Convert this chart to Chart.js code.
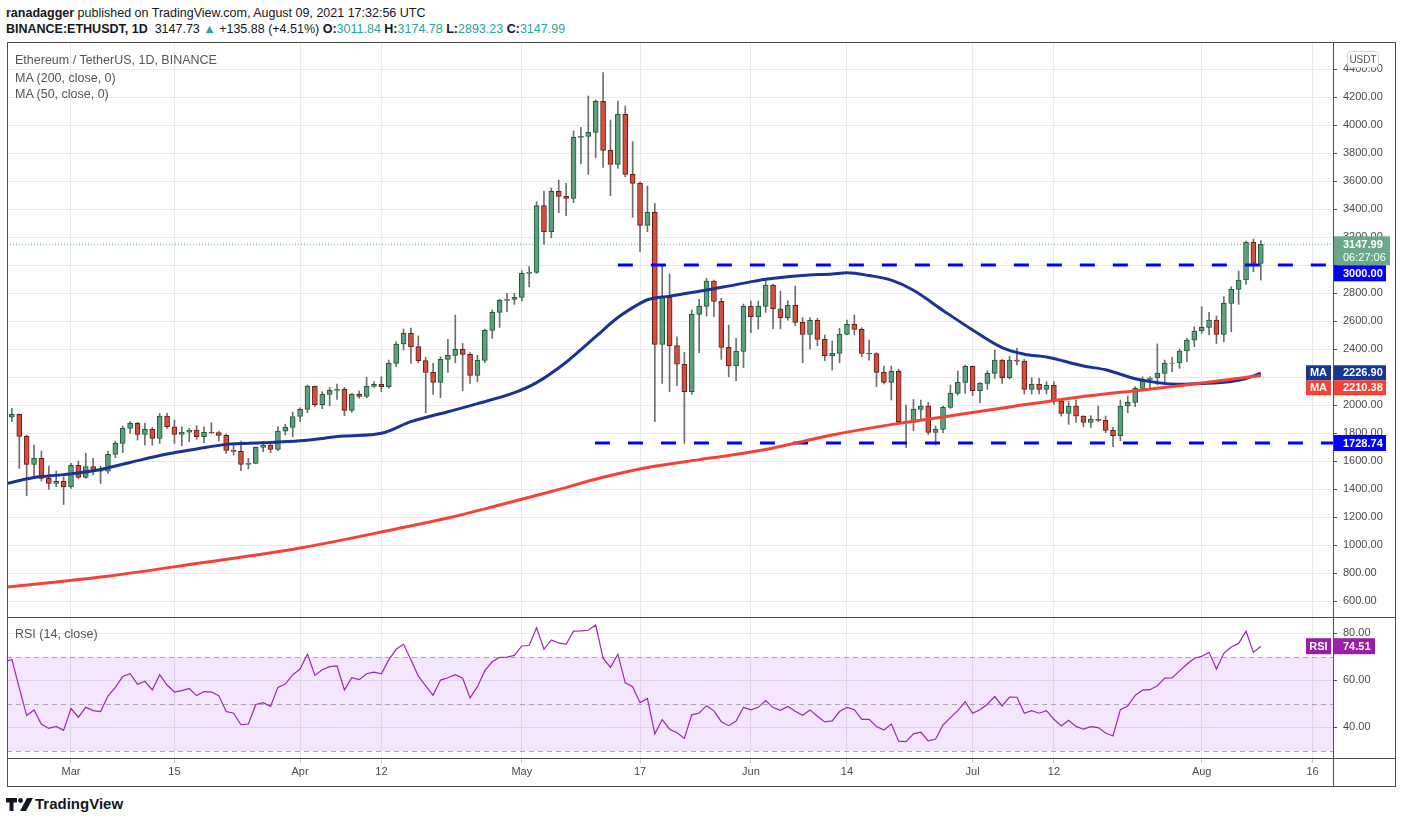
<!DOCTYPE html>
<html lang="en">
<head>
<meta charset="UTF-8">
<title>Ethereum / TetherUS, 1D, BINANCE</title>
<script src="https://cdn.jsdelivr.net/npm/chart.js"></script>
<style>
    body {
        margin: 0;
        width: 1401px;
        height: 823px;
        position: relative;
        overflow: hidden;
        background: #fff;
        font-family: 'Liberation Sans', Arial, sans-serif;
        color: #131722;
    }
    .abs { position: absolute; white-space: nowrap; }
    .hdr { left: 6px; font-size: 12.5px; line-height: 15px; }
    .up { color: #26a69a; }
    .legend { left: 15px; font-size: 12.5px; line-height: 15px; color: #555; }
    .line { background: #4d4d4d; pointer-events: none; }
    canvas { position: absolute; left: 0; }
</style>
</head>
<body>
<div class="abs hdr" style="top:6px"><b>ranadagger</b> published on TradingView.com, August 09, 2021 17:32:56 UTC</div>
<div class="abs hdr" style="top:22px"><b>BINANCE:ETHUSDT, 1D</b>&nbsp; 3147.73 <span class="up">&#9650;</span> +135.88 (+4.51%) <b>O:</b><span class="up">3011.84</span> <b>H:</b><span class="up">3174.78</span> <b>L:</b><span class="up">2893.23</span> <b>C:</b><span class="up">3147.99</span></div>

<canvas id="priceChart" width="1401" height="575" style="top:42px"></canvas>
<canvas id="rsiChart" width="1401" height="169" style="top:617px"></canvas>

<div class="abs legend" style="top:53px">Ethereum / TetherUS, 1D, BINANCE</div>
<div class="abs legend" style="top:71px">MA (200, close, 0)</div>
<div class="abs legend" style="top:87px">MA (50, close, 0)</div>
<div class="abs legend" style="top:627px">RSI (14, close)</div>

<!-- chart frame -->
<div class="abs" style="left:7px;top:42px;width:1387px;height:743px;border:1px solid #4d4d4d;pointer-events:none"></div>
<div class="abs line" style="left:7px;top:617px;width:1389px;height:1px"></div>
<div class="abs line" style="left:7px;top:758px;width:1389px;height:1px"></div>
<div class="abs line" style="left:1333px;top:42px;width:1px;height:744px"></div>

<!-- logo -->
<svg class="abs" style="left:6px;top:798px" width="28" height="13" viewBox="0 0 28 13">
    <path d="M0 0h11v4.5H7.5V13H3.5V4.5H0z" fill="#131722"/>
    <circle cx="14.5" cy="2.5" r="2.4" fill="#131722"/>
    <path d="M21 0h6L20 13h-6z" fill="#131722"/>
</svg>
<div class="abs" style="left:35px;top:795px;font-weight:bold;font-size:15px;color:#131722">TradingView</div>

<script>
    // day index: 0 = 1 Mar 2021, first candle = 20 Feb 2021
    const firstDay = -9;

    // Feb 20-28 | Mar | Apr | May | Jun | Jul | Aug 1-9
    const opens = [
        1959, 1914, 1934, 1776, 1576, 1619, 1476, 1440, 1455,
        1416, 1569, 1483, 1560, 1540, 1528, 1648, 1726, 1833, 1869, 1790, 1826, 1762, 1921, 1845, 1790, 1807, 1821, 1774, 1805, 1803, 1783, 1676, 1669, 1576, 1583, 1698, 1714, 1683, 1814, 1840,
        1918, 1969, 2133, 2002, 2076, 2105, 2112, 1962, 2076, 2062, 2133, 2148, 2131, 2298, 2436, 2512, 2417, 2317, 2233, 2162, 2326, 2355, 2398, 2362, 2212, 2319, 2533, 2662, 2748, 2755,
        2769, 2940, 2947, 3424, 3238, 3526, 3490, 3476, 3912, 3919, 3948, 4169, 3819, 3719, 4076, 3648, 3583, 3283, 3376, 2433, 2769, 2424, 2291, 2095, 2648, 2705, 2886, 2740, 2412, 2279, 2383,
        2705, 2631, 2705, 2857, 2688, 2624, 2712, 2590, 2505, 2605, 2469, 2352, 2369, 2505, 2576, 2540, 2369, 2367, 2233, 2162, 2240, 1881, 1876, 1969, 1993, 1805, 1826, 1983, 2083, 2162,
        2277, 2102, 2155, 2226, 2321, 2195, 2321, 2314, 2112, 2147, 2112, 2140, 2029, 1940, 1993, 1921, 1876, 1898, 1890, 1819, 1781, 1993, 2019, 2119, 2183, 2193, 2226, 2298, 2300, 2386, 2464,
        2529, 2555, 2607, 2505, 2726, 2826, 2893, 3162, 3011.84
    ];
    const highs = [
        2042, 1976, 1937, 1786, 1714, 1671, 1564, 1529, 1488,
        1583, 1600, 1655, 1619, 1564, 1671, 1743, 1850, 1881, 1876, 1869, 1840, 1940, 1940, 1893, 1845, 1833, 1852, 1845, 1874, 1814, 1793, 1726, 1743, 1619, 1700, 1738, 1738, 1845, 1862, 1950,
        1980, 2143, 2136, 2095, 2126, 2150, 2126, 2083, 2100, 2198, 2167, 2202, 2321, 2452, 2543, 2550, 2493, 2340, 2298, 2345, 2469, 2643, 2440, 2374, 2355, 2543, 2679, 2755, 2798, 2798,
        2960, 2988, 3452, 3529, 3550, 3607, 3583, 3957, 3983, 4207, 4179, 4374, 4036, 4171, 4136, 3881, 3595, 3564, 3440, 2993, 2936, 2488, 2376, 2678, 2755, 2905, 2893, 2762, 2571, 2476, 2721,
        2743, 2743, 2893, 2864, 2814, 2745, 2850, 2624, 2624, 2619, 2500, 2457, 2548, 2607, 2643, 2552, 2464, 2374, 2279, 2279, 2255, 1999, 2040, 2036, 2019, 1850, 1993, 2143, 2243, 2286,
        2279, 2160, 2245, 2393, 2325, 2350, 2405, 2326, 2195, 2190, 2167, 2167, 2043, 2024, 2036, 1924, 1924, 1993, 1921, 1840, 2036, 2064, 2131, 2202, 2202, 2436, 2321, 2340, 2400, 2476, 2559,
        2702, 2662, 2636, 2774, 2845, 2957, 3171, 3186, 3174.78
    ];
    const lows = [
        1880, 1881, 1548, 1352, 1495, 1457, 1398, 1417, 1290,
        1405, 1474, 1476, 1500, 1440, 1512, 1624, 1660, 1797, 1750, 1714, 1714, 1726, 1833, 1726, 1710, 1738, 1755, 1731, 1797, 1743, 1655, 1643, 1531, 1543, 1580, 1667, 1660, 1674, 1786, 1772,
        1881, 1945, 1988, 1974, 1995, 2040, 1924, 1948, 2048, 2052, 2126, 2095, 2119, 2274, 2393, 2298, 2302, 1945, 2076, 2052, 2233, 2302, 2102, 2155, 2167, 2302, 2476, 2555, 2667, 2719,
        2743, 2845, 2940, 3148, 3195, 3374, 3352, 3445, 3724, 3648, 3767, 3698, 3495, 3690, 3631, 3340, 3095, 3238, 1881, 2155, 2095, 2138, 1726, 2076, 2374, 2636, 2631, 2326, 2202, 2174, 2267,
        2517, 2543, 2662, 2543, 2543, 2607, 2567, 2302, 2400, 2424, 2317, 2250, 2302, 2500, 2500, 2345, 2321, 2131, 2150, 2036, 1862, 1697, 1817, 1893, 1790, 1714, 1802, 1976, 2071, 2083,
        2067, 2017, 2112, 2190, 2155, 2186, 2286, 2079, 2079, 2079, 2079, 2005, 1921, 1862, 1876, 1845, 1840, 1881, 1802, 1702, 1745, 1945, 1988, 2107, 2112, 2143, 2143, 2238, 2262, 2309, 2417,
        2512, 2500, 2440, 2452, 2524, 2719, 2862, 2952, 2893.23
    ];
    const closes = [
        1914, 1934, 1776, 1576, 1619, 1476, 1440, 1455, 1416,
        1569, 1483, 1560, 1540, 1528, 1648, 1726, 1833, 1869, 1790, 1826, 1762, 1921, 1845, 1790, 1807, 1821, 1774, 1805, 1803, 1783, 1676, 1669, 1576, 1583, 1698, 1714, 1683, 1814, 1840, 1918,
        1969, 2133, 2002, 2076, 2105, 2112, 1962, 2076, 2062, 2133, 2148, 2131, 2298, 2436, 2512, 2417, 2317, 2233, 2162, 2326, 2355, 2398, 2362, 2212, 2319, 2533, 2662, 2748, 2755, 2769,
        2940, 2947, 3424, 3238, 3526, 3490, 3476, 3912, 3919, 3948, 4169, 3819, 3719, 4076, 3648, 3583, 3283, 3376, 2433, 2769, 2424, 2291, 2095, 2648, 2705, 2886, 2740, 2412, 2279, 2383, 2705,
        2631, 2705, 2857, 2688, 2624, 2712, 2590, 2505, 2605, 2469, 2352, 2369, 2505, 2576, 2540, 2369, 2367, 2233, 2162, 2240, 1881, 1876, 1969, 1993, 1805, 1826, 1983, 2083, 2162, 2277,
        2102, 2155, 2226, 2321, 2195, 2321, 2314, 2112, 2147, 2112, 2140, 2029, 1940, 1993, 1921, 1876, 1898, 1890, 1819, 1781, 1993, 2019, 2119, 2183, 2193, 2226, 2298, 2300, 2386, 2464, 2529,
        2555, 2607, 2505, 2726, 2826, 2893, 3162, 3012, 3147.99
    ];
    const rsiValues = [
        68.0, 68.9, 56.8, 45.0, 47.4, 41.3, 39.6, 40.4, 38.7,
        48.0, 44.3, 48.5, 47.1, 46.7, 53.3, 57.0, 61.6, 62.8, 58.3, 59.6, 55.9, 62.4, 58.0, 55.0, 55.6, 56.5, 53.5, 55.2, 55.0, 53.5, 46.7, 46.0, 41.1, 41.4, 49.7, 50.5, 48.9, 57.0, 58.4, 62.3,
        64.8, 71.2, 62.1, 64.5, 65.8, 66.1, 55.9, 61.1, 60.3, 62.8, 63.5, 62.8, 68.7, 73.2, 75.3, 68.7, 61.8, 57.6, 53.6, 60.1, 61.1, 62.4, 60.9, 52.5, 57.3, 64.1, 67.9, 69.8, 69.9, 70.6,
        74.6, 74.8, 82.4, 73.2, 77.2, 75.9, 75.3, 80.9, 81.0, 81.3, 83.5, 69.4, 65.5, 71.1, 58.9, 57.3, 50.5, 52.3, 37.2, 43.3, 39.2, 37.7, 35.3, 45.3, 46.1, 49.2, 47.0, 42.4, 40.7, 42.7, 48.5,
        47.4, 48.5, 51.4, 48.4, 47.2, 48.9, 46.8, 45.1, 47.4, 44.7, 42.3, 42.7, 46.7, 48.5, 47.5, 43.4, 43.4, 40.3, 38.8, 41.4, 34.1, 33.9, 37.2, 37.9, 34.2, 35.0, 41.0, 44.1, 47.1, 50.9,
        46.0, 47.5, 49.8, 53.1, 49.1, 52.9, 52.8, 46.0, 47.1, 46.0, 47.1, 43.4, 40.6, 43.0, 40.4, 39.2, 40.3, 39.9, 37.6, 36.3, 47.5, 49.1, 53.6, 55.8, 56.0, 57.7, 60.9, 61.0, 64.0, 66.8, 69.4,
        70.2, 71.9, 64.8, 71.5, 74.2, 75.7, 80.9, 71.9, 74.51
    ];

    // moving averages at these days
    const ma50Days = [-9, -5, -1, 4, 8, 13, 17, 21, 26, 31, 37, 42, 46, 51, 55, 60, 63, 67, 71, 74, 77, 78, 81, 86, 90, 94, 99, 103, 105, 108, 111, 114, 118, 122, 126, 129, 132, 137, 140, 144, 147, 150, 153, 157, 159, 161];
    const ma50Values = [1435, 1483, 1503, 1540, 1590, 1650, 1686, 1719, 1730, 1745, 1778, 1798, 1881, 1952, 2010, 2088, 2160, 2306, 2488, 2625, 2726, 2752, 2778, 2821, 2860, 2898, 2926, 2936, 2945, 2925, 2892, 2820, 2676, 2536, 2410, 2363, 2343, 2279, 2252, 2188, 2160, 2148, 2153, 2168, 2190, 2226.9];
    const ma200Days = [-9, 4, 17, 31, 44, 51, 58, 65, 72, 78, 85, 89, 94, 103, 112, 118, 122, 127, 136, 145, 150, 153, 161];
    const ma200Values = [698, 771, 868, 979, 1115, 1193, 1286, 1382, 1484, 1554, 1610, 1640, 1683, 1786, 1869, 1915, 1947, 1986, 2054, 2108, 2138, 2157, 2210.38];

    // horizontal levels drawn by the author
    const levelValues = [3000, 1728.74];
    const levelStartDays = [74, 70.9];

    const tickDays = [0, 14, 31, 42, 61, 77, 92, 105, 122, 133, 153, 168];
    const tickLabels = ['Mar', '15', 'Apr', '12', 'May', '17', 'Jun', '14', 'Jul', '12', 'Aug', '16'];
    const priceTicks = [600, 800, 1000, 1200, 1400, 1600, 1800, 2000, 2200, 2400, 2600, 2800, 3000, 3200, 3400, 3600, 3800, 4000, 4200, 4400];
    const rsiTicks = [40, 60, 80];

    const xMin = -8.66, xMax = 170.77;
    const upFill = '#5e9f7d', downFill = '#d34f3d', upEdge = '#1f5c3c', downEdge = '#6b1c14';
    const lastClose = closes[closes.length - 1];
    const lastRsi = rsiValues[rsiValues.length - 1];

    Chart.defaults.font.family = "'Liberation Sans', Arial, sans-serif";
    Chart.defaults.color = '#4a4a4a';

    const candleX = opens.map((_, i) => firstDay + i);
    const isUp = opens.map((o, i) => closes[i] >= o);

    function tag(ctx, x, y, w, h, fill, text, align) {
        ctx.fillStyle = fill;
        ctx.fillRect(x, y, w, h);
        ctx.fillStyle = '#fff';
        ctx.font = "bold 11px 'Liberation Sans', Arial, sans-serif";
        ctx.textBaseline = 'middle';
        ctx.textAlign = align || 'left';
        ctx.fillText(text, align === 'center' ? x + w / 2 : x + 10, y + h / 2 + 0.5);
    }

    const priceLabels = {
        id: 'priceLabels',
        afterDraw(chart) {
            const ctx = chart.ctx, y = chart.scales.y;
            ctx.save();
            // USDT unit badge
            ctx.fillStyle = '#fff';
            ctx.strokeStyle = '#d6d6d6';
            ctx.beginPath();
            ctx.roundRect(1347.5, 9.5, 31, 16, 3);
            ctx.fill();
            ctx.stroke();
            ctx.fillStyle = '#555';
            ctx.font = "10px 'Liberation Sans', Arial, sans-serif";
            ctx.textAlign = 'center';
            ctx.textBaseline = 'middle';
            ctx.fillText('USDT', 1363, 18);

            // last price with countdown
            const yp = y.getPixelForValue(lastClose);
            ctx.fillStyle = '#6aa889';
            ctx.fillRect(1333, yp - 8, 57, 29);
            ctx.fillStyle = '#fff';
            ctx.font = "bold 11px 'Liberation Sans', Arial, sans-serif";
            ctx.textAlign = 'left';
            ctx.fillText(lastClose.toFixed(2), 1343, yp + 0.5);
            ctx.font = "11px 'Liberation Sans', Arial, sans-serif";
            ctx.fillText('06:27:06', 1343, yp + 13.5);
            const priceBottom = yp + 21;

            // level tags
            let y1 = Math.max(y.getPixelForValue(levelValues[0]) - 8, priceBottom);
            tag(ctx, 1333, y1, 53, 16, '#0000ff', levelValues[0].toFixed(2));
            tag(ctx, 1333, y.getPixelForValue(levelValues[1]) - 8, 53, 16, '#0000ff', levelValues[1].toFixed(2));

            // MA tags
            const m50 = ma50Values[ma50Values.length - 1], m200 = ma200Values[ma200Values.length - 1];
            const t50 = y.getPixelForValue(m50) - 8;
            const t200 = Math.max(y.getPixelForValue(m200) - 8, t50 + 15);
            tag(ctx, 1306, t50, 25, 15, '#163594', 'MA', 'center');
            tag(ctx, 1333, t50, 53, 15, '#163594', m50.toFixed(2));
            tag(ctx, 1306, t200, 25, 15, '#f44336', 'MA', 'center');
            tag(ctx, 1333, t200, 53, 15, '#f44336', m200.toFixed(2));
            ctx.restore();
        }
    };

    new Chart(document.getElementById('priceChart'), {
        type: 'bar',
        data: {
            datasets: [
                {
                    type: 'line', label: 'MA 200',
                    data: ma200Days.map((d, i) => ({ x: d, y: ma200Values[i] })),
                    borderColor: '#f44336', borderWidth: 3, pointRadius: 0,
                    cubicInterpolationMode: 'monotone', clip: 0, order: 0
                },
                {
                    type: 'line', label: 'MA 50',
                    data: ma50Days.map((d, i) => ({ x: d, y: ma50Values[i] })),
                    borderColor: '#163594', borderWidth: 3, pointRadius: 0,
                    cubicInterpolationMode: 'monotone', clip: 0, order: 1
                },
                ...levelValues.map((v, k) => ({
                    type: 'line', label: 'level ' + v,
                    data: [{ x: levelStartDays[k], y: v }, { x: xMax, y: v }],
                    borderColor: '#0000ff', borderWidth: 3, borderDash: [15, 18],
                    pointRadius: 0, clip: 0, order: 0
                })),
                {
                    type: 'line', label: 'last price',
                    data: [{ x: xMin, y: lastClose }, { x: xMax, y: lastClose }],
                    borderColor: '#5aa88a', borderWidth: 1, borderDash: [1, 2],
                    pointRadius: 0, clip: 0, order: 5
                },
                {
                    label: 'body',
                    data: candleX.map((x, i) => ({ x: x, y: [opens[i], closes[i]] })),
                    backgroundColor: isUp.map(u => u ? upFill : downFill),
                    borderColor: isUp.map(u => u ? upEdge : downEdge),
                    borderWidth: 1, borderSkipped: false,
                    barThickness: 5, grouped: false, clip: 0, order: 3
                },
                {
                    label: 'wick',
                    data: candleX.map((x, i) => ({ x: x, y: [lows[i], highs[i]] })),
                    backgroundColor: '#6e6e6e',
                    barThickness: 1, grouped: false, clip: 0, order: 4
                }
            ]
        },
        options: {
            responsive: false,
            animation: false,
            layout: { padding: { left: 7, right: 0, top: 0, bottom: 0 } },
            plugins: { legend: { display: false }, tooltip: { enabled: false } },
            scales: {
                x: {
                    type: 'linear', min: xMin, max: xMax, offset: false,
                    afterBuildTicks: s => { s.ticks = tickDays.map(v => ({ value: v })); },
                    ticks: { display: false },
                    grid: { color: '#e9e9e9', drawTicks: false, offset: false },
                    border: { display: false },
                    afterFit: s => { s.height = 0; s.paddingLeft = 0; s.paddingRight = 0; }
                },
                y: {
                    position: 'right', min: 486, max: 4593,
                    afterBuildTicks: s => { s.ticks = priceTicks.map(v => ({ value: v })); },
                    ticks: { padding: 6, color: '#4a4a4a', font: { size: 11 }, callback: v => Number(v).toFixed(2) },
                    grid: { color: '#e9e9e9', tickLength: 4, tickColor: '#4d4d4d' },
                    border: { display: false },
                    afterFit: s => { s.width = 68; s.paddingTop = 0; s.paddingBottom = 0; }
                }
            }
        },
        plugins: [priceLabels]
    });

    const rsiDecor = {
        id: 'rsiDecor',
        beforeDatasetsDraw(chart) {
            const ctx = chart.ctx, a = chart.chartArea, y = chart.scales.y;
            ctx.save();
            ctx.fillStyle = 'rgba(170, 60, 240, 0.13)';
            ctx.fillRect(a.left, y.getPixelForValue(70), a.right - a.left, y.getPixelForValue(30) - y.getPixelForValue(70));
            ctx.strokeStyle = '#aea4b3';
            ctx.lineWidth = 1;
            ctx.setLineDash([5, 4]);
            [70, 50, 30].forEach(v => {
                const py = Math.round(y.getPixelForValue(v)) + 0.5;
                ctx.beginPath();
                ctx.moveTo(a.left, py);
                ctx.lineTo(a.right, py);
                ctx.stroke();
            });
            ctx.restore();
        },
        afterDraw(chart) {
            const ctx = chart.ctx, y = chart.scales.y;
            ctx.save();
            const t = y.getPixelForValue(lastRsi) - 8;
            tag(ctx, 1306, t, 25, 16, '#9c1ea8', 'RSI', 'center');
            tag(ctx, 1333, t, 42, 16, '#9c1ea8', lastRsi.toFixed(2));
            ctx.restore();
        }
    };

    new Chart(document.getElementById('rsiChart'), {
        type: 'line',
        data: {
            datasets: [{
                label: 'RSI',
                data: candleX.map((x, i) => ({ x: x, y: rsiValues[i] })),
                borderColor: '#9c27b0', borderWidth: 1.2, pointRadius: 0, tension: 0, clip: 0
            }]
        },
        options: {
            responsive: false,
            animation: false,
            layout: { padding: { left: 7, right: 0, top: 0, bottom: 0 } },
            plugins: { legend: { display: false }, tooltip: { enabled: false } },
            scales: {
                x: {
                    type: 'linear', min: xMin, max: xMax, offset: false,
                    afterBuildTicks: s => { s.ticks = tickDays.map(v => ({ value: v })); },
                    ticks: { autoSkip: false, maxRotation: 0, padding: 2, color: '#4a4a4a', font: { size: 11 }, callback: (v, i) => tickLabels[i] },
                    grid: { color: '#e9e9e9', tickLength: 5, tickColor: '#c8c8c8' },
                    border: { display: false },
                    afterFit: s => { s.height = 28; s.paddingLeft = 0; s.paddingRight = 0; }
                },
                y: {
                    position: 'right', min: 26.94, max: 86.94,
                    afterBuildTicks: s => { s.ticks = rsiTicks.map(v => ({ value: v })); },
                    ticks: { padding: 6, color: '#4a4a4a', font: { size: 11 }, callback: v => Number(v).toFixed(2) },
                    grid: { color: '#e9e9e9', tickLength: 4, tickColor: '#4d4d4d' },
                    border: { display: false },
                    afterFit: s => { s.width = 68; s.paddingTop = 0; s.paddingBottom = 0; }
                }
            }
        },
        plugins: [rsiDecor]
    });
</script>
</body>
</html>
